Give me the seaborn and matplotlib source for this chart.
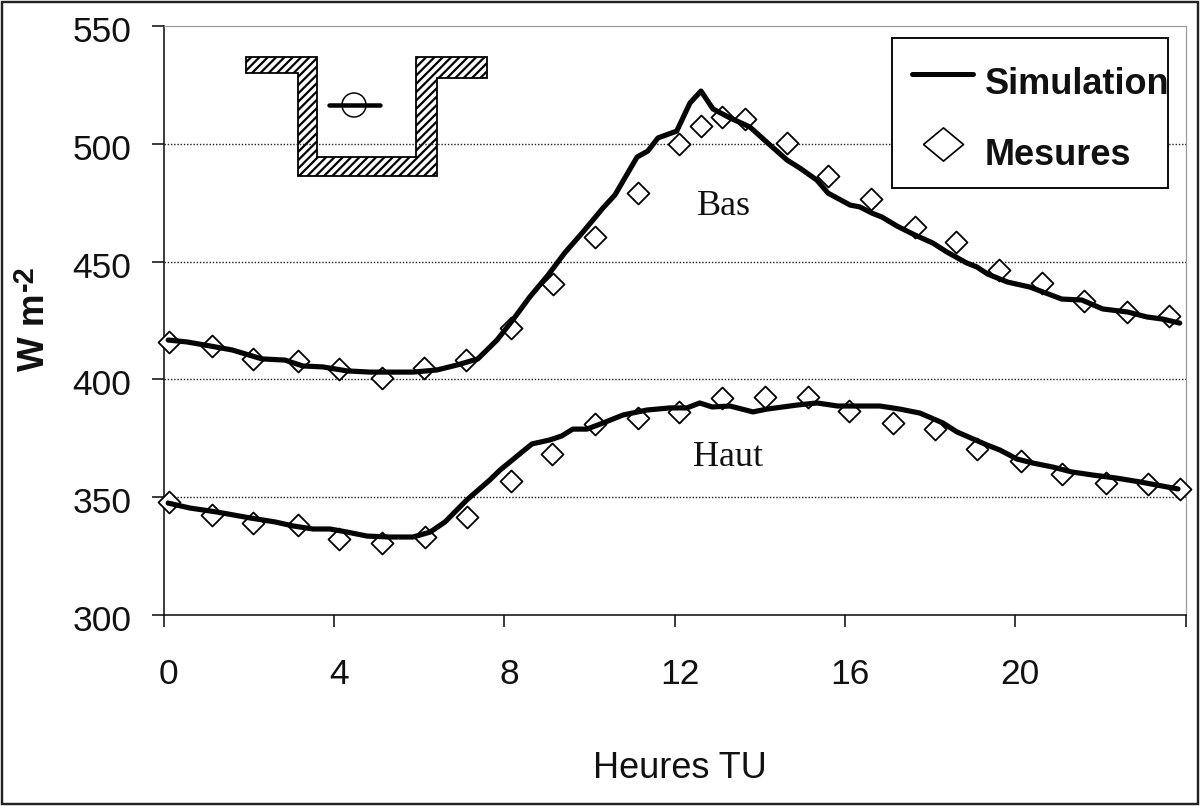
import matplotlib

matplotlib.use("Agg")

import matplotlib.pyplot as plt
import matplotlib.transforms as mtrans
import pandas as pd
import seaborn as sns
from matplotlib.lines import Line2D
from matplotlib.patches import Circle, Polygon, Rectangle

# values (hours, W m-2)
bas_sim_h = [0.11, 0.55, 1.09, 1.61, 2.31, 2.85, 3.27, 3.74, 4.31, 4.85, 5.32, 5.86, 6.42, 6.89, 7.38,
             7.83, 8.20, 8.60, 9.03, 9.42, 9.85, 10.32, 10.60, 11.12, 11.37, 11.61, 12.05, 12.36, 12.62,
             12.90, 13.30, 13.77, 14.19, 14.64, 14.94, 15.34, 15.60, 16.12, 16.35, 16.63, 16.87, 17.22,
             17.64, 18.06, 18.39, 18.86, 19.10, 19.35, 19.82, 20.34, 20.65, 21.09, 21.56, 22.05, 22.64,
             23.09, 23.46, 23.86]
bas_sim = [416.7, 415.9, 414.2, 412.5, 408.7, 408.2, 405.7, 405.3, 403.6, 403.1, 403.1, 403.1, 404.0, 406.1,
           408.7, 416.7, 425.2, 435.0, 444.3, 453.7, 462.6, 472.8, 478.3, 494.4, 496.9, 502.5, 505.4, 517.3,
           522.4, 514.8, 511.0, 507.1, 500.3, 493.1, 489.7, 484.6, 479.1, 474.0, 473.2, 470.6, 468.9, 465.1,
           461.3, 457.9, 454.1, 449.4, 447.7, 444.7, 441.3, 439.2, 437.1, 434.1, 433.7, 429.9, 428.6, 426.5,
           425.6, 423.9]

haut_sim_h = [0.11, 0.62, 1.26, 2.03, 2.62, 3.04, 3.51, 3.91, 4.31, 4.78, 5.32, 5.86, 6.26, 6.61, 7.12, 7.66,
              7.90, 8.65, 9.07, 9.35, 9.61, 9.94, 10.32, 10.79, 11.35, 11.89, 12.29, 12.59, 12.88, 13.30,
              13.84, 14.17, 14.87, 15.34, 15.83, 16.82, 17.29, 17.76, 18.30, 18.63, 19.33, 19.64, 20.04,
              20.41, 20.88, 21.33, 21.82, 22.38, 22.92, 23.82]
haut_sim = [347.5, 345.4, 343.7, 341.2, 339.5, 337.8, 336.5, 336.5, 335.2, 333.5, 333.1, 333.1, 335.2, 339.5,
            348.8, 357.3, 361.5, 372.6, 374.3, 376.0, 378.9, 378.9, 381.5, 384.9, 387.0, 387.9, 387.9, 390.0,
            388.3, 388.7, 386.2, 387.4, 389.1, 390.0, 388.7, 388.7, 387.4, 385.7, 381.5, 377.7, 372.2, 370.0,
            366.2, 364.5, 362.8, 360.7, 359.4, 358.1, 356.5, 353.5]

bas_mes_h = [0.13, 1.14, 2.10, 3.16, 4.12, 5.13, 6.11, 7.10, 8.16, 9.14, 10.13, 11.14, 12.11, 12.62, 13.11,
             13.65, 14.64, 15.60, 16.61, 17.64, 18.60, 19.61, 20.62, 21.61, 22.62, 23.60]
bas_mes = [415.9, 414.2, 408.7, 407.8, 404.4, 400.6, 404.8, 408.2, 421.8, 440.5, 460.4, 479.1, 499.9, 507.6,
           511.4, 510.5, 500.3, 486.3, 476.6, 464.7, 458.3, 446.4, 440.9, 433.3, 428.6, 426.9]

haut_mes_h = [0.13, 1.14, 2.10, 3.16, 4.12, 5.13, 6.13, 7.12, 8.16, 9.12, 10.13, 11.14, 12.11, 13.11, 14.12,
              15.13, 16.09, 17.12, 18.11, 19.09, 20.13, 21.09, 22.12, 23.11, 23.86]
haut_mes = [348.0, 342.4, 339.0, 338.2, 332.3, 330.6, 333.1, 341.6, 356.9, 368.3, 381.1, 383.6, 386.2, 392.1,
            392.5, 392.5, 386.6, 381.5, 378.9, 370.5, 365.4, 359.8, 356.0, 355.6, 353.5]

x_ticks = [0, 4, 8, 12, 16, 20, 24]
x_tick_labels = ["0", "4", "8", "12", "16", "20", ""]
y_ticks = [300, 350, 400, 450, 500, 550]

W, H = 1200, 806


def fx(px):
    return px / W


def fy(py):
    return 1 - py / H


def px_pts(px):
    return px * 0.72


sns.set_theme(style="white")
plt.rcParams["font.family"] = ["Liberation Sans", "DejaVu Sans"]
plt.rcParams["hatch.linewidth"] = 1.6
plt.rcParams["hatch.color"] = "black"

fig = plt.figure(figsize=(W / 100, H / 100), dpi=100, facecolor="white")
ax = fig.add_axes([fx(163.5), fy(615), fx(1185.7 - 163.5), (615 - 26) / H])

sim_color = "#050505"
for hours, values in [(bas_mes_h, bas_mes), (haut_mes_h, haut_mes)]:
    sns.scatterplot(
        data=pd.DataFrame({"h": hours, "v": values}), x="h", y="v", ax=ax, marker="D", s=125,
        facecolor="white", edgecolor="black", linewidth=px_pts(1.8), zorder=3, clip_on=False,
    )
for hours, values in [(bas_sim_h, bas_sim), (haut_sim_h, haut_sim)]:
    sns.lineplot(
        data=pd.DataFrame({"h": hours, "v": values}), x="h", y="v", ax=ax, color=sim_color, sort=False,
        estimator=None, linewidth=px_pts(5.2), zorder=4, solid_capstyle="round", clip_on=False,
    )

ax.set_xlim(0, 24)
ax.set_ylim(300, 550)
ax.set_xticks(x_ticks)
ax.set_xticklabels(x_tick_labels)
ax.set_yticks(y_ticks)
ax.tick_params(axis="both", which="major", bottom=True, left=True, direction="out", length=px_pts(12),
               width=px_pts(1.6), color="#111111", labelsize=25.5, labelcolor="#111111")
ax.tick_params(axis="x", pad=px_pts(31))
ax.tick_params(axis="y", pad=px_pts(20))

ax.grid(axis="y", color="#222222", linewidth=px_pts(1.4), linestyle=(0, (1, 1.3)))
ax.set_axisbelow(False)
for i, line in enumerate(ax.yaxis.get_gridlines()):
    if y_ticks[i] in (300, 550):
        line.set_visible(False)

for side in ("left", "bottom"):
    ax.spines[side].set_color("#111111")
    ax.spines[side].set_linewidth(px_pts(1.6))
for side in ("top", "right"):
    ax.spines[side].set_color("#999999")
    ax.spines[side].set_linewidth(px_pts(1.2))

# the tick labels sit a bit to the right of / under the ticks in the original
x_shift = mtrans.ScaledTranslation(5 / 100, 0, fig.dpi_scale_trans)
for label in ax.get_xticklabels():
    label.set_transform(label.get_transform() + x_shift)
y_shift = mtrans.ScaledTranslation(0, -3 / 100, fig.dpi_scale_trans)
for label in ax.get_yticklabels():
    label.set_transform(label.get_transform() + y_shift)

ax.set_xlabel("")
ax.set_ylabel("")
fig.text(fx(680), fy(768), "Heures TU", fontsize=26, color="#111111", ha="center", va="center")
fig.text(fx(35), fy(371), "W m", fontsize=26.5, fontweight="bold", color="#111111", rotation=90,
         ha="center", va="bottom")
fig.text(fx(25), fy(291), "-2", fontsize=21, fontweight="bold", color="#111111", rotation=90,
         ha="center", va="bottom")

ax.text(12.52, 469.8, "Bas", family="Liberation Serif", fontsize=26, color="#111111", va="baseline")
ax.text(12.43, 363.2, "Haut", family="Liberation Serif", fontsize=26, color="#111111", va="baseline")

# little cross-section sketch of the street
section = [(246, 57), (317, 57), (317, 157), (416, 157), (416, 57), (487, 57), (487, 78), (437, 78),
           (437, 176), (298, 176), (298, 73), (246, 73)]
ax.add_patch(Polygon([(fx(a), fy(b)) for a, b in section], closed=True, transform=fig.transFigure,
                     facecolor="white", edgecolor="black", hatch="////", linewidth=px_pts(1.8),
                     zorder=1, clip_on=False))
ax.add_patch(Circle((fx(354) * W, fy(105) * H), 12, transform=mtrans.IdentityTransform(), facecolor="none",
                    edgecolor="black", linewidth=px_pts(1.5), zorder=2, clip_on=False))
ax.add_line(Line2D([fx(329), fx(380)], [fy(105), fy(105)], transform=fig.transFigure, color="black",
                   linewidth=px_pts(4.5), solid_capstyle="round", zorder=2))

# legend frame is narrower than the auto one, the text touches its right edge
ax.add_patch(Rectangle((fx(892), fy(188)), fx(1168 - 892), (188 - 38) / H, transform=fig.transFigure,
                       facecolor="white", edgecolor="#111111", linewidth=px_pts(2), zorder=4.5, clip_on=False))
handles = [
    Line2D([], [], color=sim_color, linewidth=px_pts(5), solid_capstyle="round"),
    Line2D([], [], linestyle="none", marker=[(-1, 0), (0, 0.83), (1, 0), (0, -0.83), (-1, 0)],
           markersize=px_pts(40), markerfacecolor="white", markeredgecolor="black",
           markeredgewidth=px_pts(1.7)),
]
legend = ax.legend(handles, ["Simulation", "Mesures"], loc="upper left", bbox_to_anchor=(fx(912), fy(60)),
                   bbox_transform=fig.transFigure, frameon=False, borderpad=0, borderaxespad=0,
                   handlelength=1.7, handletextpad=0.31, labelspacing=0.95,
                   prop={"family": "Liberation Sans", "weight": "bold", "size": 26})
legend.set_zorder(5)
# labels sit lower than their handles in the original
for text, drop in zip(legend.get_texts(), [-7, -9]):
    text.set_color("#111111")
    text.set_y(drop)

# outer frame of the whole picture
fig.add_artist(Rectangle((fx(2), fy(804)), fx(1196), 802 / H, transform=fig.transFigure, facecolor="none",
                         edgecolor="#222222", linewidth=px_pts(2.4)))

fig.savefig("out.png", dpi=100)
plt.close(fig)
